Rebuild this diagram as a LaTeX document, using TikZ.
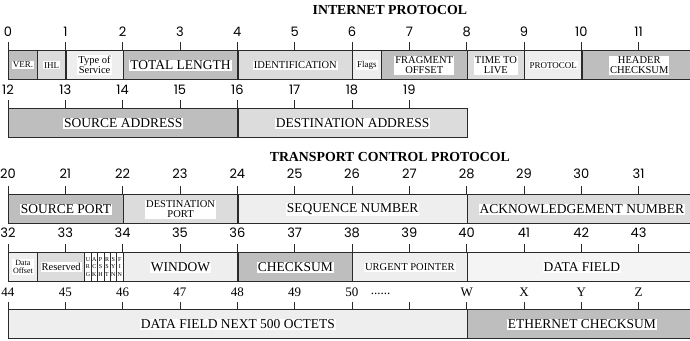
\documentclass[tikz,border=0pt]{standalone}
\usepackage{fontspec}
\setmainfont{Liberation Serif}
\newfontfamily\numfont{Poppins}
\definecolor{gdark}{HTML}{BEBEBE}
\definecolor{gmid}{HTML}{DCDCDC}
\definecolor{glight}{HTML}{EEEEEE}
\definecolor{gpale}{HTML}{F4F4F4}
\definecolor{rule}{HTML}{2A2A2A}

\tikzset{
  cell/.style={draw=rule, line width=1.2pt, rectangle, inner sep=0pt,
               anchor=north west, minimum height=29pt},
  tag/.style={fill=white, inner sep=1pt, align=center, text=black},
  big/.style={tag, font=\fontsize{13.5}{14}\selectfont},
  mid/.style={tag, font=\fontsize{10.5}{10}\selectfont},
  small/.style={tag, font=\fontsize{9}{9}\selectfont},
  tiny/.style={tag, font=\fontsize{8}{8.5}\selectfont},
  bitcell/.style={cell, line width=0.6pt, fill=white},
  bittag/.style={inner sep=0pt, align=center, font=\fontsize{6}{7.3}\selectfont},
  num/.style={font=\numfont\fontsize{13}{13}\selectfont, inner sep=0pt},
  snum/.style={font=\fontsize{13}{13}\selectfont, inner sep=0pt},
  tick/.style={draw=rule, line width=0.8pt},
  title/.style={font=\bfseries\fontsize{13.8}{14}\selectfont, inner sep=0pt},
}

% one header field: name, start, end (in byte units), top, fill, text style, text
\newcommand{\pfield}[7]{%
  \node[cell, fill=#5, minimum width={(#3-#2)*57.33pt}] (#1) at (#2,#4) {};
  \node[#6] (#1-t) at (#1.center) {#7};
}

\begin{document}
\begin{tikzpicture}[x=57.33pt, y=-1pt]
\useasboundingbox (-0.13954,0) rectangle (11.8959,340);

% ---------------- Internet Protocol ----------------
\node[title] (iptitle) at (6.66,10) {INTERNET PROTOCOL};

\foreach \i in {0,...,11} {
  \node[num] (a\i) at (\i,32) {\i};
  \draw[tick] (\i,42) -- (\i,50);
}
\pfield{ver}{0}{0.5}{50}{gdark}{small}{VER.}
\pfield{ihl}{0.5}{1}{50}{gmid}{small}{IHL}
\pfield{tos}{1}{2}{50}{glight}{mid}{Type of\\Service}
\pfield{tlen}{2}{4}{50}{gdark}{big}{TOTAL LENGTH}
\pfield{ident}{4}{6}{50}{gmid}{mid}{IDENTIFICATION}
\pfield{flg}{6}{6.5}{50}{glight}{small}{Flags}
\pfield{frag}{6.5}{8}{50}{gdark}{mid}{FRAGMENT\\OFFSET}
\pfield{ttl}{8}{9}{50}{gmid}{mid}{TIME TO\\LIVE}
\pfield{proto}{9}{10}{50}{glight}{small}{PROTOCOL}
\pfield{hcs}{10}{12}{50}{gdark}{mid}{HEADER\\CHECKSUM}

\foreach \i [evaluate=\i as \n using int(\i+12)] in {0,...,7} {
  \node[num] (b\i) at (\i,90) {\n};
  \draw[tick] (\i,100) -- (\i,108);
}
\pfield{srca}{0}{4}{108}{gdark}{big}{SOURCE ADDRESS}
\pfield{dsta}{4}{8}{108}{gmid}{big}{DESTINATION ADDRESS}

% ---------------- Transport Control Protocol ----------------
\node[title] (tcptitle) at (6.66,157) {TRANSPORT CONTROL PROTOCOL};

\foreach \i [evaluate=\i as \n using int(\i+20)] in {0,...,11} {
  \node[num] (c\i) at (\i,174) {\n};
  \draw[tick] (\i,186) -- (\i,194);
}
\pfield{sport}{0}{2}{194}{gdark}{big}{SOURCE PORT}
\pfield{dport}{2}{4}{194}{gmid}{mid}{DESTINATION\\PORT}
\pfield{seq}{4}{8}{194}{glight}{big}{SEQUENCE NUMBER}
\pfield{ack}{8}{12}{194}{gmid}{big}{ACKNOWLEDGEMENT NUMBER}

\foreach \i [evaluate=\i as \n using int(\i+32)] in {0,...,11} {
  \node[num] (d\i) at (\i,233) {\n};
  \draw[tick] (\i,244) -- (\i,252);
}
\pfield{doff}{0}{0.5}{252}{glight}{tiny}{Data\\Offset}
\pfield{resv}{0.5}{1.3333}{252}{gmid}{mid}{Reserved}
% control bits
\foreach \b [count=\k from 0] in {U\\R\\G, A\\C\\K, P\\S\\H, R\\S\\T, S\\Y\\N, F\\I\\N} {
  \node[bitcell, minimum width=6.37pt] (bit\k) at ({1.3333+\k*0.1111},252) {};
  \node[bittag] (bit\k-t) at (bit\k.center) {\b};
}
\pfield{win}{2}{4}{252}{glight}{big}{WINDOW}
\pfield{csum}{4}{6}{252}{gdark}{big}{CHECKSUM}
\pfield{urg}{6}{8}{252}{glight}{mid}{URGENT POINTER}
\pfield{data}{8}{12}{252}{gpale}{big}{DATA FIELD}

\foreach \i [evaluate=\i as \n using int(\i+44)] in {0,...,6} {
  \node[snum] (e\i) at (\i,292) {\n};
}
\node[snum] (edots) at (6.5,294) {......};
\foreach \i/\l in {8/W, 9/X, 10/Y, 11/Z} {
  \node[snum] (e\i) at (\i,292) {\l};
}
\foreach \i in {0,...,11} {
  \draw[tick] (\i,302) -- (\i,309);
}
\pfield{next}{0}{8}{309}{glight}{big}{DATA FIELD NEXT 500 OCTETS}
\pfield{eth}{8}{12}{309}{gdark}{big}{ETHERNET CHECKSUM}
\end{tikzpicture}
\end{document}
